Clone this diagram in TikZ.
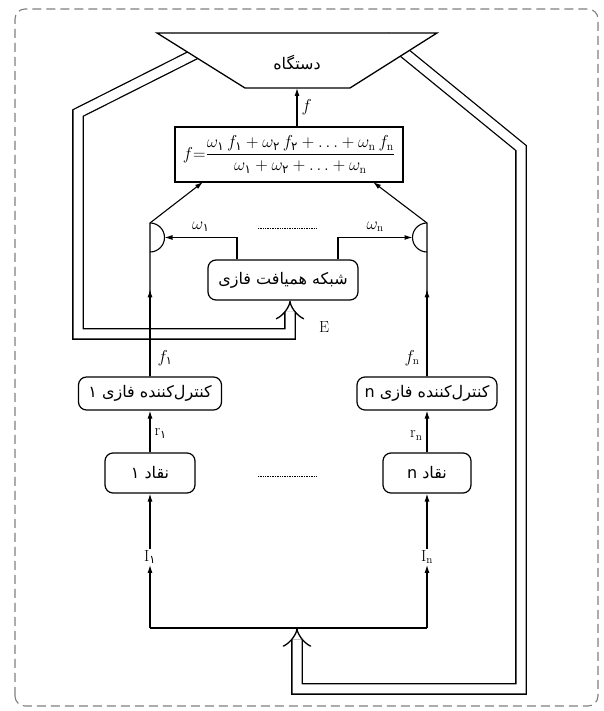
\documentclass[tikz,border=0pt]{standalone}
\usepackage{amsmath}
\usepackage{fontspec}
\usetikzlibrary{arrows.meta,positioning}
\TeXXeTstate=1
\newfontfamily\fafont[Script=Arabic]{DejaVu Sans}
\newcommand{\fa}[1]{{\fafont\beginR #1\endR}}
\newcommand{\fad}[1]{\text{\fafont #1}}

\tikzset{
  box/.style={draw, rounded corners=8pt, line width=1.2pt, inner sep=2pt,
    font=\fontsize{16}{18}\selectfont},
  arr/.style={-{Latex[length=8pt,width=5pt]}, line width=1.1pt},
  feed/.style={double, double distance=9pt, line width=1.3pt, -{Implies}},
  lbl/.style={inner sep=1pt, font=\fontsize{16}{18}\selectfont},
  frame/.style={draw=gray, line width=1.1pt, rounded corners=10pt, dash pattern=on 9pt off 5pt}
}

\begin{document}
\begin{tikzpicture}[x=1pt,y=1pt]
\useasboundingbox (0,0) rectangle (603,711);
\draw[frame] (15,5) rectangle (598,702);

% feedback lines from the plant
\coordinate (eC) at (290,377);
\coordinate (busm) at (297,83);
\node[box, minimum width=150pt, minimum height=40pt] (net) at (283,431) {\fa{شبکه همیافت فازی}};
\draw[feed] (211,665) -- (78,598) -- (78,377) -- (eC) -- (net.south -| eC);
\draw[feed] (385,674) -- (521,563) -- (521,22) -- (297,22) -- (busm);
\node[lbl, anchor=west] (lE) at (318,384) {E};

% boxes
\node[draw, line width=1.3pt, minimum width=228pt, minimum height=55pt, inner sep=1pt, font=\fontsize{17}{19}\selectfont] (form) at (289,556.5)
  {$f{=}\dfrac{\omega_{\fad{۱}}\, f_{\fad{۱}}+\omega_{\fad{۲}}\, f_{\fad{۲}}+\ldots+\omega_{\mathrm{n}}\, f_{\mathrm{n}}}{\omega_{\fad{۱}}+\omega_{\fad{۲}}+\ldots+\omega_{\mathrm{n}}}$};
\node[box, minimum width=143pt, minimum height=33pt] (ctl1) at (150,317.5) {\fa{کنترل‌کننده فازی ۱}};
\node[box, minimum width=140pt, minimum height=33pt] (ctln) at (427,317.5) {\fa{کنترل‌کننده فازی \beginL n\endL{}}};
\node[box, minimum width=90pt, minimum height=40pt] (crt1) at (150,238) {\fa{نقاد ۱}};
\node[box, minimum width=88pt, minimum height=40pt] (crtn) at (427,238) {\fa{نقاد \beginL n\endL{}}};
\node[lbl] (in1) at (150,154) {$\mathrm{I}_{\fad{۱}}$};
\node[lbl] (inn) at (427,154) {$\mathrm{I}_{\mathrm{n}}$};

% input bus
\coordinate (bus1) at (150,83);
\coordinate (busn) at (427,83);
\draw[line width=1.1pt] (bus1) -- (busn);
\draw[arr] (bus1) -- (in1);
\draw[arr] (busn) -- (inn);
\draw[arr] (in1) -- (crt1);
\draw[arr] (inn) -- (crtn);
\draw[arr] (crt1) -- node[lbl, right=3pt, pos=0.45] {$\mathrm{r}_{\fad{۱}}$} (ctl1);
\draw[arr] (crtn) -- node[lbl, left=3pt, pos=0.4] {$\mathrm{r}_{\mathrm{n}}$} (ctln);
\draw[densely dotted, line width=0.7pt] (258,235) -- (317,235);

% controller outputs up to the mixers
\coordinate (jl) at (150,488);
\coordinate (jr) at (427,488);
\coordinate (fl) at (203,529);
\coordinate (fr) at (373,529);
\draw[arr] (ctl1.north) -- ++(0,87);
\draw[arr] (ctln.north) -- ++(0,87);
\draw[arr] (ctl1.north) -- node[lbl, right=6pt, pos=0.12] {$f_{\fad{۱}}$} (jl) -- (fl);
\draw[arr] (ctln.north) -- node[lbl, left=6pt, pos=0.12] {$f_{\mathrm{n}}$} (jr) -- (fr);
\draw[line width=1.1pt] (jl) arc[start angle=90, end angle=-90, radius=14.5];
\draw[line width=1.1pt] (jr) arc[start angle=90, end angle=270, radius=14.5];

% weights
\coordinate (wl) at (237,473.5);
\coordinate (wr) at (338,473.5);
\draw[arr] (net.north -| wl) -- (wl) -- node[lbl, above=4pt, pos=0.5] {$\omega_{\fad{۱}}$} (164.5,473.5);
\draw[arr] (net.north -| wr) -- (wr) -- node[lbl, above=4pt, pos=0.5] {$\omega_{\mathrm{n}}$} (412.5,473.5);
\draw[densely dotted, line width=0.7pt] (258,483) -- (317,483);

% plant
\draw[line width=1.3pt, fill=white] (157,678) -- (437,678) -- (350,623) -- (245,623) -- cycle;
\node[box, draw=none] (plant) at (297,648) {\fa{دستگاه}};
\draw[arr] (form.north -| plant) -- node[lbl, right=3pt] {$f$} (297,623);
\end{tikzpicture}
\end{document}
